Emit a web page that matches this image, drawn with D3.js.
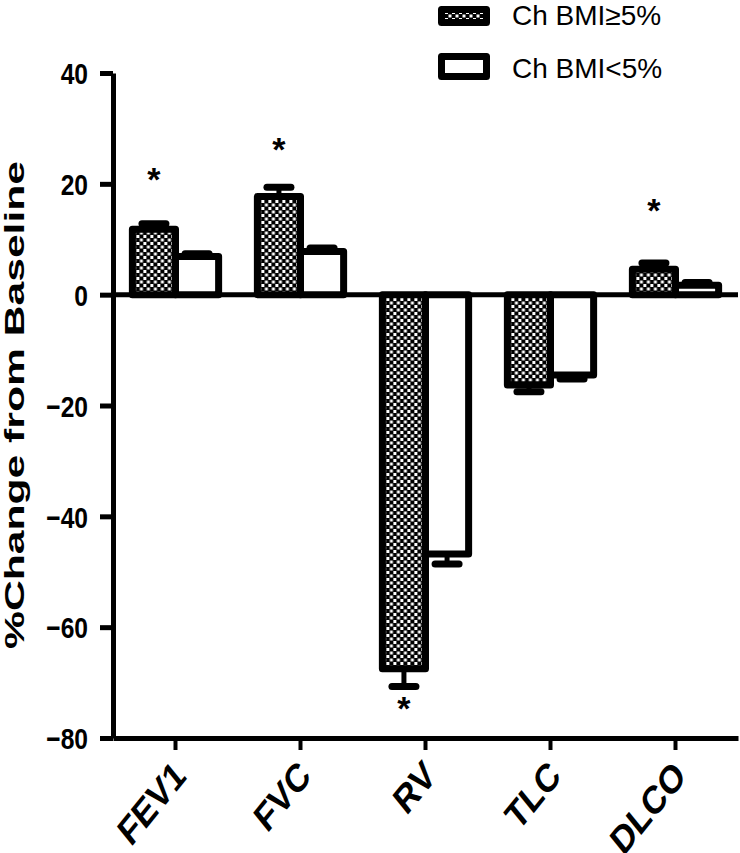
<!DOCTYPE html>
<html>
<head>
<meta charset="utf-8">
<script src="https://cdn.jsdelivr.net/npm/d3@7"></script>
<style>
  body { margin: 0; background: #fff; }
  svg { display: block; font-family: "Liberation Sans", Arial, sans-serif; }
</style>
</head>
<body>
<svg width="740" height="853"></svg>
<script>
var categories = ["FEV1", "FVC", "RV", "TLC", "DLCO"];
var seriesNames = ["Ch BMI\u22655%", "Ch BMI<5%"];
var bmiHigh = [11.8, 17.7, -67.5, -16.3, 4.6];
var bmiHighErr = [1.0, 1.7, 3.2, 1.2, 1.1];
var bmiLow = [6.9, 7.8, -46.8, -14.5, 1.7];
var bmiLowErr = [0.5, 0.6, 1.8, 0.7, 0.5];
// asterisk positions in data units, only on the BMI>=5% bars
var starAt = [21.2, 26.6, -74.2, null, 15.6];
var yTicks = [40, 20, 0, -20, -40, -60, -80];

var data = categories.map(function(c, i) {
  return {cat: c, bars: [
    {s: 0, v: bmiHigh[i], e: bmiHighErr[i]},
    {s: 1, v: bmiLow[i], e: bmiLowErr[i]}
  ], star: starAt[i]};
});

var svg = d3.select("svg");
var mLeft = 113, mRight = 738, mTop = 73, mBottom = 738;

var defs = svg.append("defs");
var pat = defs.append("pattern")
    .attr("id", "dots")
    .attr("patternUnits", "userSpaceOnUse")
    .attr("width", 7).attr("height", 7);
pat.append("rect").attr("width", 7).attr("height", 7).attr("fill", "#000");
pat.append("rect").attr("x", 0.5).attr("y", 0.5).attr("width", 3).attr("height", 3).attr("fill", "#fff");
pat.append("rect").attr("x", 4).attr("y", 4).attr("width", 3).attr("height", 3).attr("fill", "#fff");

var y = d3.scaleLinear().domain([-80, 40]).range([mBottom, mTop]);
var x0 = d3.scaleBand().domain(categories).range([mLeft, mRight])
    .paddingInner(0.31).paddingOuter(0.155);
var x1 = d3.scaleBand().domain([0, 1]).range([0, x0.bandwidth()]);

// y axis
var yAxis = svg.append("g")
    .attr("transform", "translate(" + mLeft + ",0)")
    .call(d3.axisLeft(y).tickValues(yTicks).tickSize(13).tickSizeOuter(0).tickPadding(12));
yAxis.select(".domain").attr("stroke-width", 5).attr("stroke", "#000");
yAxis.selectAll(".tick line").attr("stroke-width", 5).attr("stroke", "#000");
yAxis.selectAll(".tick text")
    .attr("fill", "#000")
    .style("font-size", "30px").style("font-weight", "bold")
    .attr("dy", "0.36em")
    .each(function() {
      var w = this.getComputedTextLength();
      d3.select(this).attr("textLength", w * 0.82).attr("lengthAdjust", "spacingAndGlyphs");
    });

// x axis
var xAxis = svg.append("g")
    .attr("transform", "translate(0," + mBottom + ")")
    .call(d3.axisBottom(x0).tickSize(12).tickSizeOuter(0));
xAxis.select(".domain").attr("stroke-width", 5).attr("stroke", "#000");
xAxis.selectAll(".tick line").attr("stroke-width", 4).attr("stroke", "#000");
xAxis.selectAll(".tick text")
    .attr("fill", "#000")
    .attr("x", null).attr("y", null).attr("dy", null)
    .style("font-size", "32px").style("font-weight", "bold")
    .attr("text-anchor", "end")
    .attr("transform", "translate(12,40) scale(1,1.23) rotate(-45)");

// bars
var groups = svg.append("g").selectAll("g")
  .data(data).join("g")
    .attr("transform", function(d) { return "translate(" + x0(d.cat) + ",0)"; });

groups.selectAll("rect")
  .data(function(d) { return d.bars; }).join("rect")
    .attr("x", function(d) { return x1(d.s); })
    .attr("width", x1.bandwidth())
    .attr("y", function(d) { return y(Math.max(0, d.v)); })
    .attr("height", function(d) { return Math.abs(y(d.v) - y(0)); })
    .attr("fill", function(d) { return d.s === 0 ? "url(#dots)" : "#fff"; })
    .attr("stroke", "#000").attr("stroke-width", 7).attr("stroke-linejoin", "round");

// error bars
var eb = groups.selectAll("g.err")
  .data(function(d) { return d.bars; }).join("g").attr("class", "err");
eb.append("line")
    .attr("x1", function(d) { return x1(d.s) + x1.bandwidth() / 2; })
    .attr("x2", function(d) { return x1(d.s) + x1.bandwidth() / 2; })
    .attr("y1", function(d) { return y(d.v); })
    .attr("y2", function(d) { return y(d.v + (d.v >= 0 ? d.e : -d.e)); })
    .attr("stroke", "#000").attr("stroke-width", 5);
eb.append("line")
    .attr("x1", function(d) { return x1(d.s) + x1.bandwidth() / 2 - 12; })
    .attr("x2", function(d) { return x1(d.s) + x1.bandwidth() / 2 + 12; })
    .attr("y1", function(d) { return y(d.v + (d.v >= 0 ? d.e : -d.e)); })
    .attr("y2", function(d) { return y(d.v + (d.v >= 0 ? d.e : -d.e)); })
    .attr("stroke", "#000").attr("stroke-width", 7).attr("stroke-linecap", "round");

// zero line
svg.append("line")
    .attr("x1", mLeft).attr("x2", mRight)
    .attr("y1", y(0)).attr("y2", y(0))
    .attr("stroke", "#000").attr("stroke-width", 5);

// asterisks
groups.filter(function(d) { return d.star != null; })
  .append("text")
    .attr("x", x1(0) + x1.bandwidth() / 2)
    .attr("y", function(d) { return y(d.star) + 14; })
    .attr("text-anchor", "middle")
    .style("font-size", "34px").style("font-weight", "bold")
    .text("*");

// y title
svg.append("text")
    .attr("transform", "translate(24,405) rotate(-90)")
    .attr("text-anchor", "middle")
    .attr("textLength", 488).attr("lengthAdjust", "spacingAndGlyphs")
    .style("font-size", "27px").style("font-weight", "bold")
    .text("%Change from Baseline");

// legend
var legend = svg.append("g").selectAll("g")
  .data(seriesNames).join("g");
legend.append("rect")
    .attr("x", 441.5)
    .attr("y", function(d, i) { return i === 0 ? 9.5 : 56.5; })
    .attr("width", 45)
    .attr("height", function(d, i) { return i === 0 ? 13 : 20; })
    .attr("fill", function(d, i) { return i === 0 ? "url(#dots)" : "#fff"; })
    .attr("stroke", "#000").attr("stroke-width", 7).attr("stroke-linejoin", "round");
legend.append("text")
    .attr("x", 512)
    .attr("y", function(d, i) { return i === 0 ? 25 : 78; })
    .style("font-size", "28px")
    .text(function(d) { return d; });
</script>
</body>
</html>
